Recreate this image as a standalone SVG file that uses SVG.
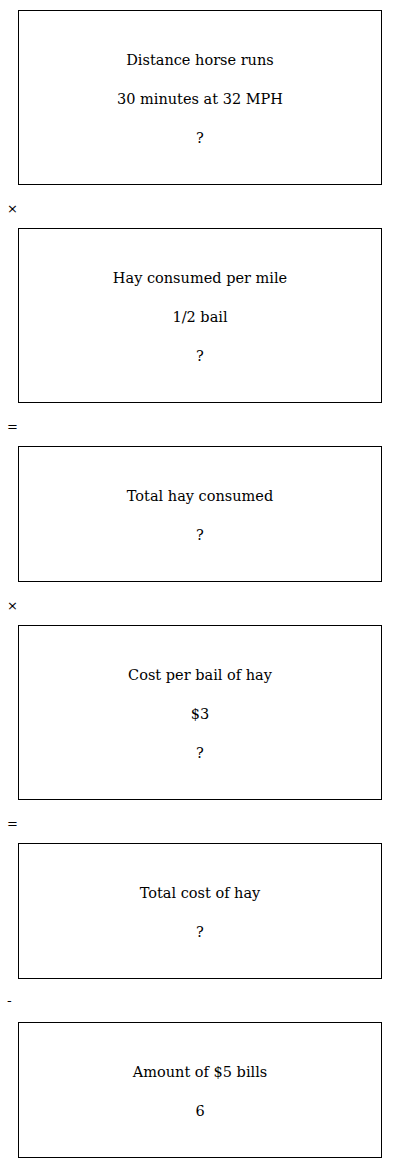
<svg xmlns="http://www.w3.org/2000/svg" width="400" height="1168" viewBox="0 0 400 1168">
<style>
.box{fill:#fff;stroke:#000;stroke-width:1}
.t{font-family:"DejaVu Serif",serif;font-size:14.5px;fill:#000;text-anchor:middle}
.op{font-family:"DejaVu Sans",sans-serif;font-size:13px;fill:#000}
</style>
<rect width="400" height="1168" fill="#fff"/>
<g id="node1">
<rect class="box" x="18.5" y="10.5" width="363" height="174"/>
<text class="t" x="200" y="65">Distance horse runs</text>
<text class="t" x="200" y="104">30 minutes at 32 MPH</text>
<text class="t" x="200" y="143">?</text>
</g>
<g id="node2">
<rect class="box" x="18.5" y="228.5" width="363" height="174"/>
<text class="t" x="200" y="283">Hay consumed per mile</text>
<text class="t" x="200" y="322">1/2 bail</text>
<text class="t" x="200" y="361">?</text>
</g>
<g id="node3">
<rect class="box" x="18.5" y="446.5" width="363" height="135"/>
<text class="t" x="200" y="501">Total hay consumed</text>
<text class="t" x="200" y="540">?</text>
</g>
<g id="node4">
<rect class="box" x="18.5" y="625.5" width="363" height="174"/>
<text class="t" x="200" y="680">Cost per bail of hay</text>
<text class="t" x="200" y="719">$3</text>
<text class="t" x="200" y="758">?</text>
</g>
<g id="node5">
<rect class="box" x="18.5" y="843.5" width="363" height="135"/>
<text class="t" x="200" y="898">Total cost of hay</text>
<text class="t" x="200" y="937">?</text>
</g>
<g id="node6">
<rect class="box" x="18.5" y="1022.5" width="363" height="135"/>
<text class="t" x="200" y="1077">Amount of $5 bills</text>
<text class="t" x="200" y="1116">6</text>
</g>
<g id="connectors">
<text class="op" x="7" y="213">×</text>
<text class="op" x="7" y="431">=</text>
<text class="op" x="7" y="610">×</text>
<text class="op" x="7" y="828">=</text>
<text class="op" x="7" y="1005">-</text>
</g>
</svg>
